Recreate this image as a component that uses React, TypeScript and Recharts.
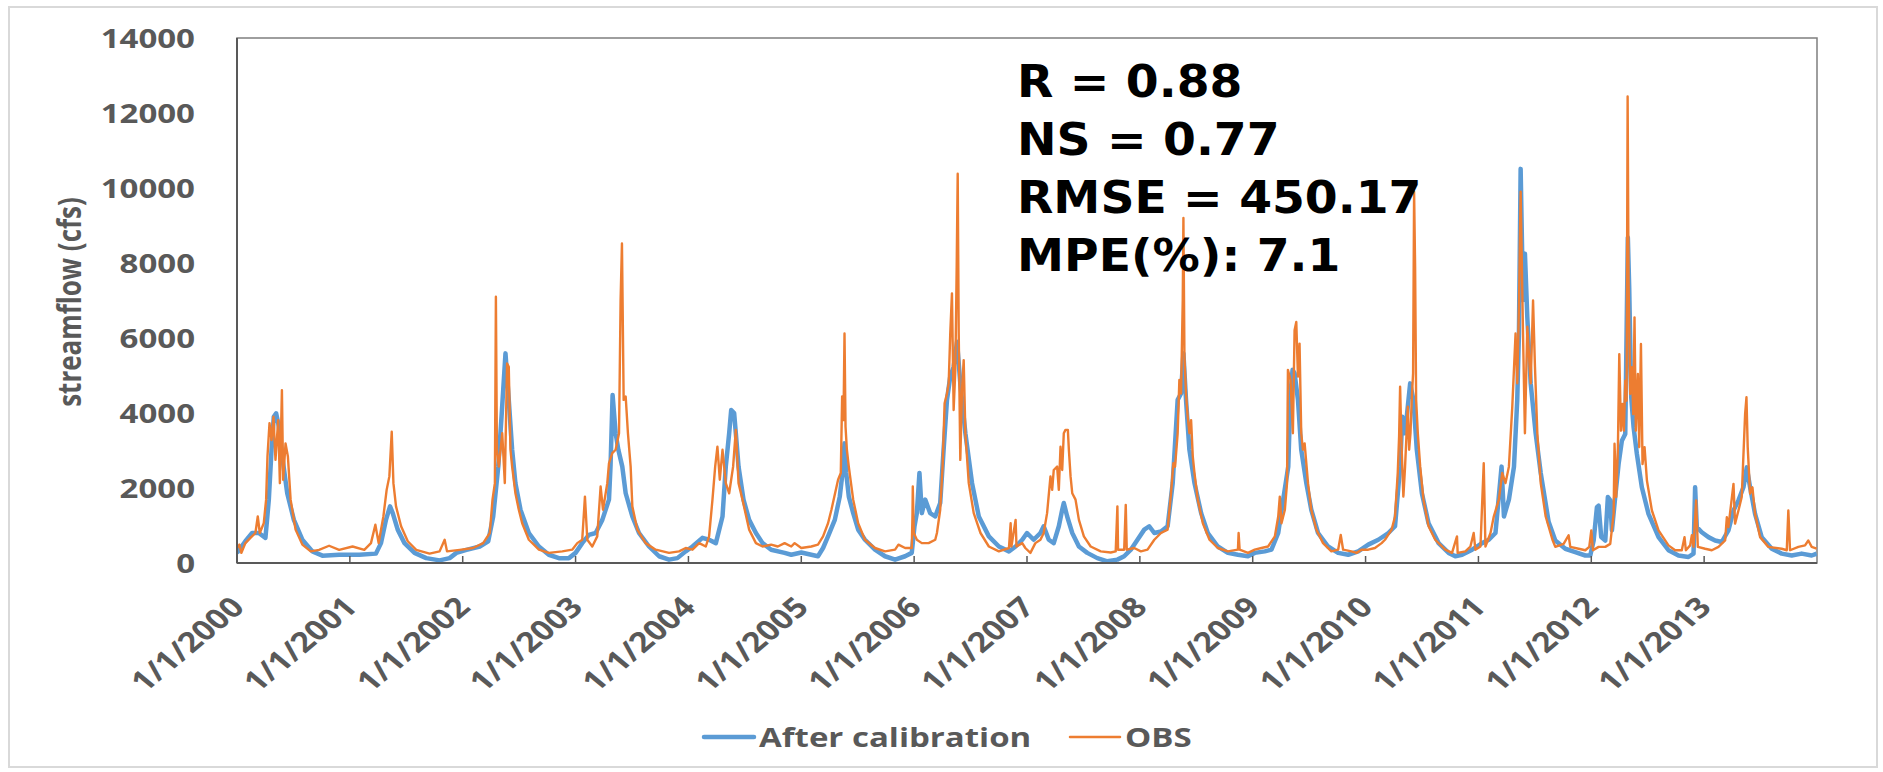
import React from 'react';
import { LineChart, Line, XAxis, YAxis, ReferenceArea, Legend } from 'recharts';

// decimal year, streamflow (cfs)
const afterCalibration: [number, number][] = [
  [2000.0, 270], [2000.074, 580], [2000.134, 800], [2000.193, 800], [2000.252, 670], [2000.282, 1690], [2000.306, 3020],
  [2000.326, 3900], [2000.347, 3990], [2000.371, 3640], [2000.401, 2840], [2000.445, 1860], [2000.504, 1150], [2000.579, 620],
  [2000.668, 310], [2000.757, 195], [2000.905, 220], [2001.083, 220], [2001.231, 250], [2001.276, 530], [2001.32, 1150],
  [2001.356, 1510], [2001.38, 1330], [2001.424, 890], [2001.484, 530], [2001.573, 270], [2001.677, 130], [2001.795, 70],
  [2001.884, 130], [2001.944, 270], [2002.033, 350], [2002.151, 440], [2002.226, 580], [2002.27, 1240], [2002.315, 2570],
  [2002.344, 3900], [2002.379, 5590], [2002.408, 4350], [2002.438, 3020], [2002.467, 2130], [2002.512, 1420], [2002.586, 800],
  [2002.675, 440], [2002.763, 220], [2002.852, 130], [2002.941, 130], [2003.0, 270], [2003.059, 530], [2003.118, 750],
  [2003.178, 800], [2003.237, 1150], [2003.296, 1690], [2003.31, 2600], [2003.328, 4480], [2003.355, 3460], [2003.379, 3020],
  [2003.414, 2570], [2003.444, 1860], [2003.503, 1240], [2003.562, 800], [2003.651, 440], [2003.74, 180], [2003.828, 90],
  [2003.902, 130], [2003.976, 310], [2004.036, 440], [2004.124, 670], [2004.183, 620], [2004.243, 530], [2004.302, 1240],
  [2004.331, 2570], [2004.361, 3460], [2004.379, 4080], [2004.405, 4000], [2004.42, 3460], [2004.444, 2570], [2004.488, 1690],
  [2004.538, 1150], [2004.598, 800], [2004.657, 530], [2004.733, 355], [2004.852, 270], [2004.911, 220], [2005.0, 280],
  [2005.148, 180], [2005.193, 400], [2005.237, 710], [2005.297, 1150], [2005.341, 1770], [2005.365, 2400], [2005.383, 3190],
  [2005.398, 2400], [2005.421, 1770], [2005.46, 1330], [2005.504, 890], [2005.564, 620], [2005.653, 355], [2005.742, 180],
  [2005.831, 90], [2005.92, 180], [2005.979, 270], [2006.003, 980], [2006.024, 1330], [2006.047, 2400], [2006.068, 1330],
  [2006.098, 1690], [2006.142, 1330], [2006.187, 1240], [2006.231, 1600], [2006.261, 3020], [2006.291, 4350], [2006.32, 4970],
  [2006.35, 5230], [2006.38, 5900], [2006.409, 4790], [2006.454, 3460], [2006.513, 2130], [2006.573, 1240], [2006.662, 710],
  [2006.751, 440], [2006.84, 310], [2006.899, 440], [2006.958, 620], [2007.0, 800], [2007.059, 620], [2007.119, 800],
  [2007.148, 980], [2007.193, 620], [2007.237, 530], [2007.282, 980], [2007.312, 1420], [2007.326, 1600], [2007.356, 1240],
  [2007.401, 800], [2007.46, 440], [2007.534, 270], [2007.623, 130], [2007.712, 45], [2007.801, 90], [2007.861, 180],
  [2007.92, 355], [2007.979, 620], [2008.039, 890], [2008.083, 980], [2008.128, 800], [2008.187, 840], [2008.246, 980],
  [2008.291, 2130], [2008.335, 4350], [2008.365, 4520], [2008.386, 5590], [2008.409, 4350], [2008.439, 3020], [2008.484, 2130],
  [2008.543, 1330], [2008.602, 800], [2008.691, 440], [2008.78, 270], [2008.869, 220], [2008.958, 180], [2009.018, 270],
  [2009.107, 310], [2009.166, 355], [2009.226, 800], [2009.27, 1690], [2009.315, 2570], [2009.335, 4520], [2009.353, 5150],
  [2009.371, 5060], [2009.401, 4350], [2009.43, 3020], [2009.475, 2130], [2009.519, 1420], [2009.579, 800], [2009.668, 440],
  [2009.757, 270], [2009.846, 220], [2009.935, 310], [2010.024, 490], [2010.113, 620], [2010.202, 800], [2010.261, 980],
  [2010.306, 2570], [2010.326, 3900], [2010.35, 3460], [2010.395, 4790], [2010.424, 4350], [2010.454, 3020], [2010.499, 1860],
  [2010.558, 1060], [2010.647, 530], [2010.736, 270], [2010.795, 180], [2010.855, 220], [2010.944, 355], [2011.033, 530],
  [2011.092, 620], [2011.151, 800], [2011.205, 2570], [2011.226, 1240], [2011.27, 1690], [2011.315, 2570], [2011.344, 4350],
  [2011.359, 6120], [2011.374, 10510], [2011.395, 7010], [2011.412, 8250], [2011.433, 6560], [2011.463, 4790], [2011.507, 3460],
  [2011.552, 2400], [2011.622, 1100], [2011.681, 600], [2011.77, 380], [2011.858, 290], [2011.947, 200], [2011.991, 200],
  [2012.021, 600], [2012.05, 1490], [2012.065, 1530], [2012.088, 690], [2012.124, 600], [2012.147, 1760], [2012.168, 1670],
  [2012.183, 870], [2012.212, 1760], [2012.242, 2640], [2012.271, 3260], [2012.301, 3440], [2012.324, 8680], [2012.336, 7340],
  [2012.354, 4420], [2012.375, 3620], [2012.404, 2910], [2012.448, 2020], [2012.507, 1310], [2012.596, 690], [2012.684, 340],
  [2012.773, 200], [2012.861, 160], [2012.906, 250], [2012.92, 2020], [2012.935, 960], [2012.979, 820], [2013.038, 690],
  [2013.097, 600], [2013.156, 560], [2013.215, 870], [2013.26, 1400], [2013.304, 1670], [2013.348, 2020], [2013.378, 2550],
  [2013.407, 2020], [2013.451, 1310], [2013.51, 690], [2013.599, 380], [2013.687, 250], [2013.776, 200], [2013.864, 250],
  [2013.953, 200], [2013.997, 250],
];

const obs: [number, number][] = [
  [2000.0, 400], [2000.021, 490], [2000.039, 270], [2000.074, 530], [2000.119, 670], [2000.163, 800], [2000.184, 1240],
  [2000.202, 800], [2000.237, 1060], [2000.258, 1690], [2000.27, 2840], [2000.288, 3730], [2000.306, 3280], [2000.323, 3900],
  [2000.341, 2750], [2000.365, 3810], [2000.38, 2130], [2000.398, 4610], [2000.409, 2220], [2000.43, 3190], [2000.451, 2840],
  [2000.475, 1690], [2000.519, 890], [2000.579, 490], [2000.653, 310], [2000.727, 350], [2000.816, 460], [2000.905, 350],
  [2001.024, 440], [2001.128, 350], [2001.187, 530], [2001.226, 1020], [2001.255, 530], [2001.297, 1240], [2001.326, 1950],
  [2001.35, 2310], [2001.371, 3500], [2001.386, 2130], [2001.409, 1510], [2001.454, 980], [2001.513, 580], [2001.588, 350],
  [2001.706, 250], [2001.795, 310], [2001.84, 620], [2001.861, 310], [2001.973, 350], [2002.092, 400], [2002.181, 530],
  [2002.24, 800], [2002.264, 1690], [2002.285, 2130], [2002.294, 7100], [2002.303, 3020], [2002.32, 2570], [2002.35, 3460],
  [2002.373, 2130], [2002.393, 5320], [2002.408, 5230], [2002.423, 3020], [2002.438, 2570], [2002.467, 1860], [2002.497, 1420],
  [2002.527, 1060], [2002.586, 620], [2002.675, 355], [2002.763, 270], [2002.882, 310], [2002.97, 355], [2003.015, 530],
  [2003.059, 620], [2003.083, 1770], [2003.104, 620], [2003.148, 440], [2003.192, 710], [2003.222, 2040], [2003.243, 1420],
  [2003.281, 2130], [2003.296, 2660], [2003.325, 2930], [2003.355, 3020], [2003.385, 3460], [2003.399, 7010], [2003.411, 8520],
  [2003.426, 4350], [2003.444, 4440], [2003.464, 3460], [2003.488, 2570], [2003.503, 1510], [2003.547, 890], [2003.621, 530],
  [2003.71, 355], [2003.828, 270], [2003.917, 310], [2003.976, 400], [2004.036, 355], [2004.095, 530], [2004.154, 440],
  [2004.183, 710], [2004.213, 1690], [2004.237, 2570], [2004.257, 3100], [2004.278, 2220], [2004.302, 3020], [2004.331, 2130],
  [2004.361, 1860], [2004.396, 2570], [2004.42, 3550], [2004.444, 2130], [2004.479, 1690], [2004.538, 890], [2004.598, 530],
  [2004.657, 440], [2004.733, 490], [2004.792, 440], [2004.852, 530], [2004.911, 440], [2004.941, 530], [2005.0, 400],
  [2005.089, 440], [2005.148, 490], [2005.193, 710], [2005.237, 1060], [2005.267, 1420], [2005.326, 2220], [2005.35, 2400],
  [2005.362, 4440], [2005.374, 3810], [2005.383, 6120], [2005.392, 3640], [2005.404, 3020], [2005.421, 2570], [2005.46, 1690],
  [2005.504, 1060], [2005.564, 620], [2005.653, 400], [2005.742, 310], [2005.831, 355], [2005.861, 490], [2005.92, 400],
  [2005.979, 400], [2005.985, 1240], [2005.988, 2040], [2005.997, 800], [2006.024, 620], [2006.068, 530], [2006.128, 530],
  [2006.187, 620], [2006.202, 800], [2006.231, 1420], [2006.252, 2570], [2006.27, 4260], [2006.291, 4520], [2006.306, 4790],
  [2006.32, 6120], [2006.335, 7190], [2006.35, 4080], [2006.365, 5150], [2006.377, 7890], [2006.386, 10380], [2006.395, 6120],
  [2006.409, 2750], [2006.424, 4610], [2006.439, 5410], [2006.454, 3460], [2006.484, 2130], [2006.528, 1330], [2006.588, 800],
  [2006.662, 440], [2006.751, 310], [2006.84, 400], [2006.855, 1060], [2006.862, 440], [2006.899, 1150], [2006.907, 440],
  [2006.958, 530], [2006.985, 400], [2007.03, 270], [2007.074, 530], [2007.119, 620], [2007.148, 800], [2007.178, 1330],
  [2007.208, 2310], [2007.223, 1950], [2007.237, 2480], [2007.267, 2570], [2007.282, 1950], [2007.297, 3100], [2007.312, 2480],
  [2007.326, 3460], [2007.341, 3550], [2007.362, 3550], [2007.371, 3020], [2007.386, 2310], [2007.401, 1860], [2007.43, 1690],
  [2007.46, 1150], [2007.504, 710], [2007.564, 440], [2007.653, 310], [2007.742, 280], [2007.786, 310], [2007.801, 1510],
  [2007.807, 355], [2007.861, 355], [2007.875, 1550], [2007.884, 355], [2007.95, 400], [2008.009, 310], [2008.068, 355],
  [2008.128, 620], [2008.187, 800], [2008.246, 890], [2008.276, 1860], [2008.297, 2660], [2008.312, 2570], [2008.335, 3460],
  [2008.35, 4880], [2008.365, 4520], [2008.38, 7010], [2008.386, 9200], [2008.395, 5500], [2008.409, 4520], [2008.424, 3900],
  [2008.439, 3460], [2008.454, 3810], [2008.469, 2840], [2008.484, 2400], [2008.513, 1690], [2008.558, 1060], [2008.617, 620],
  [2008.691, 400], [2008.78, 310], [2008.869, 355], [2008.875, 800], [2008.884, 355], [2008.958, 270], [2009.018, 355],
  [2009.077, 400], [2009.136, 440], [2009.196, 710], [2009.226, 1240], [2009.24, 1770], [2009.255, 1060], [2009.285, 1420],
  [2009.304, 2130], [2009.312, 5150], [2009.335, 4880], [2009.356, 3460], [2009.371, 6210], [2009.386, 6430], [2009.401, 4970],
  [2009.415, 5850], [2009.43, 3460], [2009.445, 3020], [2009.46, 3190], [2009.49, 2130], [2009.519, 1420], [2009.564, 890],
  [2009.623, 530], [2009.697, 310], [2009.757, 355], [2009.78, 750], [2009.801, 355], [2009.875, 310], [2009.92, 270],
  [2009.964, 355], [2010.024, 355], [2010.083, 400], [2010.142, 530], [2010.172, 620], [2010.231, 890], [2010.261, 1240],
  [2010.285, 2400], [2010.297, 3370], [2010.306, 4700], [2010.32, 3020], [2010.335, 1770], [2010.35, 2570], [2010.374, 4170],
  [2010.386, 3020], [2010.398, 3460], [2010.409, 4350], [2010.421, 5060], [2010.43, 9900], [2010.439, 7890], [2010.448, 4350],
  [2010.463, 3460], [2010.484, 2570], [2010.513, 1690], [2010.558, 980], [2010.617, 620], [2010.706, 355], [2010.766, 270],
  [2010.81, 710], [2010.816, 270], [2010.884, 310], [2010.929, 440], [2010.958, 800], [2010.973, 355], [2011.018, 440],
  [2011.047, 2660], [2011.062, 440], [2011.107, 800], [2011.136, 1240], [2011.181, 1690], [2011.211, 2400], [2011.24, 2130],
  [2011.27, 2570], [2011.3, 4170], [2011.329, 6120], [2011.344, 4790], [2011.359, 6830], [2011.374, 9900], [2011.395, 6120],
  [2011.412, 3460], [2011.433, 6300], [2011.463, 4790], [2011.484, 7000], [2011.501, 5230], [2011.522, 3460], [2011.552, 2130],
  [2011.596, 1240], [2011.656, 620], [2011.681, 430], [2011.755, 510], [2011.799, 740], [2011.814, 430], [2011.888, 380],
  [2011.947, 340], [2011.982, 430], [2012.0, 870], [2012.015, 340], [2012.065, 430], [2012.124, 430], [2012.168, 510],
  [2012.198, 1310], [2012.206, 3180], [2012.221, 1760], [2012.236, 3090], [2012.248, 5570], [2012.263, 3530], [2012.277, 4240],
  [2012.289, 3530], [2012.301, 4860], [2012.313, 4330], [2012.322, 12440], [2012.33, 7520], [2012.345, 4510], [2012.36, 5220],
  [2012.372, 3970], [2012.383, 6550], [2012.395, 3530], [2012.413, 5040], [2012.425, 3090], [2012.44, 5840], [2012.454, 2640],
  [2012.472, 3090], [2012.493, 2200], [2012.537, 1400], [2012.596, 870], [2012.684, 470], [2012.743, 340], [2012.802, 340],
  [2012.826, 690], [2012.838, 340], [2012.876, 470], [2012.891, 740], [2012.906, 430], [2012.929, 1670], [2012.944, 430],
  [2013.009, 380], [2013.068, 340], [2013.127, 430], [2013.186, 600], [2013.201, 1220], [2013.215, 960], [2013.26, 2110],
  [2013.274, 1050], [2013.304, 1400], [2013.333, 1760], [2013.363, 3970], [2013.375, 4420], [2013.386, 3090], [2013.407, 1850],
  [2013.428, 2020], [2013.451, 1310], [2013.496, 690], [2013.569, 430], [2013.687, 380], [2013.732, 340], [2013.746, 1400],
  [2013.761, 340], [2013.835, 430], [2013.894, 470], [2013.923, 600], [2013.953, 430], [2013.997, 380],
];

const yearTicks = [2000, 2001, 2002, 2003, 2004, 2005, 2006, 2007, 2008, 2009, 2010, 2011, 2012, 2013];
const flowTicks = [0, 2000, 4000, 6000, 8000, 10000, 12000, 14000];
const statLines = ['R = 0.88', 'NS = 0.77', 'RMSE = 450.17', 'MPE(%): 7.1'];

const simData = afterCalibration.map(([t, q]) => ({ t, q }));
const obsData = obs.map(([t, q]) => ({ t, q }));

const GREY = '#595959';
const LABEL_FONT = '"Open Sans", sans-serif';
const STRETCH = 1.27;

const XTick = (props: any) => {
  const { x, y, payload } = props;
  return (
    <g>
      <line x1={x} y1={y} x2={x} y2={y - 7} stroke={GREY} strokeWidth={1.5} />
      <text
        transform={`translate(${x + 9},${y + 46}) scale(1.2,1) rotate(-45)`}
        textAnchor="end"
        fill={GREY}
        fontFamily={LABEL_FONT}
        fontWeight={700}
        fontSize={28}
      >
        {`1/1/${payload.value}`}
      </text>
    </g>
  );
};

const YTick = (props: any) => {
  const { x, y, payload } = props;
  return (
    <text
      transform={`translate(${x},${y}) scale(${STRETCH},1)`}
      textAnchor="end"
      dominantBaseline="central"
      fill={GREY}
      fontFamily={LABEL_FONT}
      fontWeight={700}
      fontSize={26}
    >
      {payload.value}
    </text>
  );
};

const legendLayout = [
  { x: 704, w: 50, sw: 4.5 },
  { x: 1070, w: 50, sw: 2.5 },
];

const renderLegend = (props: any) => {
  const items = props.payload || [];
  return (
    <svg width={1883} height={44} style={{ display: 'block' }}>
      {items.map((entry: any, i: number) => {
        const pos = legendLayout[i] || legendLayout[0];
        return (
          <g key={entry.value}>
            <line x1={pos.x} y1={22} x2={pos.x + pos.w} y2={22} stroke={entry.color} strokeWidth={pos.sw} strokeLinecap="round" />
            <text
              transform={`translate(${pos.x + pos.w + 5},22) scale(${STRETCH},1)`}
              dominantBaseline="central"
              fill={GREY}
              fontFamily={LABEL_FONT}
              fontWeight={700}
              fontSize={26}
            >
              {entry.value}
            </text>
          </g>
        );
      })}
    </svg>
  );
};

export default function App() {
  return (
    <div style={{ position: 'absolute', left: 0, top: 0, width: 1883, height: 772, background: '#fff' }}>
      <div
        style={{
          position: 'absolute', left: 8, top: 6, width: 1870, height: 762,
          border: '2px solid #d9d9d9', boxSizing: 'border-box',
        }}
      />
      <div style={{ position: 'absolute', left: 0, top: 0 }}>
        <LineChart width={1883} height={772} margin={{ top: 38, right: 66, bottom: 169, left: 177 }}>
          <XAxis
            dataKey="t"
            type="number"
            domain={[2000, 2014]}
            ticks={yearTicks}
            interval={0}
            allowDataOverflow
            height={40}
            tickSize={0}
            tickMargin={0}
            tickLine={false}
            axisLine={{ stroke: GREY, strokeWidth: 2 }}
            tick={<XTick />}
          />
          <YAxis
            type="number"
            domain={[0, 14000]}
            ticks={flowTicks}
            interval={0}
            width={60}
            tickSize={0}
            tickMargin={42}
            tickLine={false}
            axisLine={{ stroke: GREY, strokeWidth: 2 }}
            tick={<YTick />}
          />
          <ReferenceArea x1={2000} x2={2014} y1={0} y2={14000} fill="none" stroke="#7f7f7f" strokeWidth={1.5} />
          <Legend
            layout="horizontal"
            verticalAlign="middle"
            align="center"
            wrapperStyle={{ top: 715, left: 0, width: 1883, height: 44 }}
            content={renderLegend}
          />
          <Line
            data={simData}
            dataKey="q"
            name="After calibration"
            type="linear"
            stroke="#5B9BD5"
            strokeWidth={4.5}
            strokeLinejoin="round"
            dot={false}
            activeDot={false}
            isAnimationActive={false}
          />
          <Line
            data={obsData}
            dataKey="q"
            name="OBS"
            type="linear"
            stroke="#ED7D31"
            strokeWidth={2.4}
            strokeLinejoin="round"
            dot={false}
            activeDot={false}
            isAnimationActive={false}
          />
        </LineChart>
      </div>
      <svg width={1883} height={772} style={{ position: 'absolute', left: 0, top: 0, pointerEvents: 'none' }}>
        <text
          transform={`translate(68,302) scale(${STRETCH},1) rotate(-90)`}
          textAnchor="middle"
          dominantBaseline="central"
          fill={GREY}
          fontFamily={LABEL_FONT}
          fontWeight={700}
          fontSize={26}
        >
          streamflow (cfs)
        </text>
        {statLines.map((line, i) => (
          <text
            key={line}
            transform={`translate(1017,${97 + i * 58}) scale(1.05,1)`}
            fill="#000"
            fontFamily='"DejaVu Sans", sans-serif'
            fontWeight={700}
            fontSize={45}
          >
            {line}
          </text>
        ))}
      </svg>
    </div>
  );
}
